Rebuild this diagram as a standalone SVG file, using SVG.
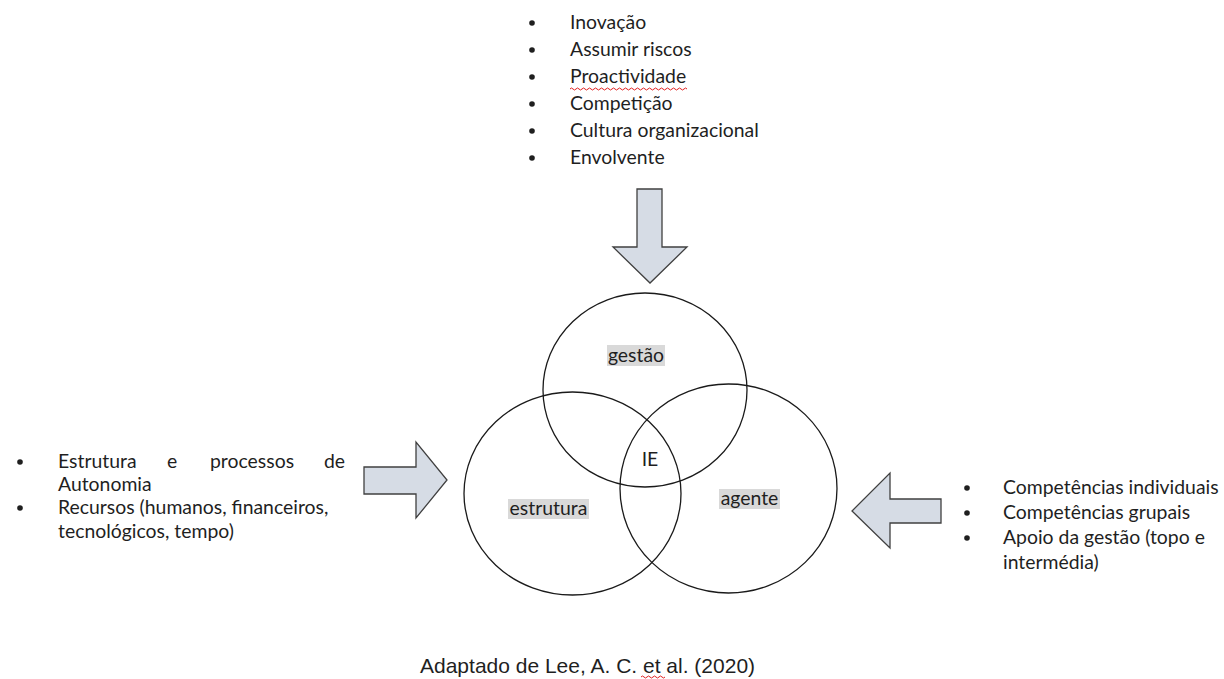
<svg xmlns="http://www.w3.org/2000/svg" width="1224" height="679" viewBox="0 0 1224 679">
<style>
.t{font-family:Lato,"Open Sans",sans-serif;font-size:19.4px;fill:#1f1f1f}
.c{font-family:"Liberation Sans",Arial,sans-serif;font-size:21px;fill:#1f1f1f}
.arrow{fill:#d6dce5;stroke:#404040;stroke-width:1.3;stroke-linejoin:miter}
.ring{fill:none;stroke:#1a1a1a;stroke-width:1.3}
.hl{fill:#d9d9d9}
.sq{fill:none;stroke:#e02020;stroke-width:1}
</style>
<rect width="1224" height="679" fill="#ffffff"/>
<g id="top-list">
<circle cx="532" cy="23" r="2.8" fill="#1f1f1f"/>
<circle cx="532" cy="50" r="2.8" fill="#1f1f1f"/>
<circle cx="532" cy="77" r="2.8" fill="#1f1f1f"/>
<circle cx="532" cy="104" r="2.8" fill="#1f1f1f"/>
<circle cx="532" cy="131" r="2.8" fill="#1f1f1f"/>
<circle cx="532" cy="158" r="2.8" fill="#1f1f1f"/>
<text class="t" x="570" y="29">Inovação</text>
<text class="t" x="570" y="56">Assumir riscos</text>
<text class="t" x="570" y="83">Proactividade</text>
<text class="t" x="570" y="110">Competição</text>
<text class="t" x="570" y="137">Cultura organizacional</text>
<text class="t" x="570" y="164">Envolvente</text>
<path class="sq" d="M570 89 q1.5 -2 3 0 t3 0 t3 0 t3 0 t3 0 t3 0 t3 0 t3 0 t3 0 t3 0 t3 0 t3 0 t3 0 t3 0 t3 0 t3 0 t3 0 t3 0 t3 0 t3 0 t3 0 t3 0 t3 0 t3 0 t3 0 t3 0 t3 0 t3 0 t3 0 t3 0 t3 0 t3 0 t3 0 t3 0 t3 0 t3 0 t3 0 t3 0 t3 0"/>
</g>
<g id="left-list">
<circle cx="20" cy="462" r="2.8" fill="#1f1f1f"/>
<circle cx="20" cy="508" r="2.8" fill="#1f1f1f"/>
<text class="t" x="58" y="468">Estrutura</text>
<text class="t" x="167" y="468">e</text>
<text class="t" x="210" y="468">processos</text>
<text class="t" x="345" y="468" text-anchor="end">de</text>
<text class="t" x="58" y="491">Autonomia</text>
<text class="t" x="58" y="514">Recursos (humanos, financeiros,</text>
<text class="t" x="58" y="538">tecnológicos, tempo)</text>
</g>
<g id="right-list">
<circle cx="967" cy="488" r="2.8" fill="#1f1f1f"/>
<circle cx="967" cy="513" r="2.8" fill="#1f1f1f"/>
<circle cx="967" cy="538" r="2.8" fill="#1f1f1f"/>
<text class="t" x="1003" y="494">Competências individuais</text>
<text class="t" x="1003" y="519">Competências grupais</text>
<text class="t" x="1003" y="544">Apoio da gestão (topo e</text>
<text class="t" x="1003" y="569">intermédia)</text>
</g>
<g id="connectors">
<path id="arrow-down" class="arrow" d="M637 189 L662 189 L662 247 L687 247 L650 283 L613 247 L637 247 Z"/>
<path id="arrow-right" class="arrow" d="M364 467 L416 467 L416 442 L447 480 L416 518 L416 494 L364 494 Z"/>
<path id="arrow-left" class="arrow" d="M941 499 L890 499 L890 473 L852 511 L890 548 L890 523 L941 523 Z"/>
</g>
<g id="gestao">
<ellipse class="ring" cx="645" cy="390" rx="102" ry="97"/>
<rect class="hl" x="607" y="345" width="58" height="21"/>
<text class="t" x="636" y="362" text-anchor="middle">gestão</text>
</g>
<g id="estrutura">
<ellipse class="ring" cx="572.5" cy="493.5" rx="108.5" ry="101.5"/>
<rect class="hl" x="508" y="499" width="81" height="20"/>
<text class="t" x="548.5" y="515" text-anchor="middle">estrutura</text>
</g>
<g id="agente">
<ellipse class="ring" cx="728.5" cy="488.5" rx="108.5" ry="104.5"/>
<rect class="hl" x="719" y="489" width="61" height="20"/>
<text class="t" x="749.5" y="505" text-anchor="middle">agente</text>
</g>
<g id="ie">
<text class="t" x="650" y="466" text-anchor="middle" font-size="22">IE</text>
</g>
<g id="caption">
<text class="c" x="420" y="673">Adaptado de Lee, A. C. et al. (2020)</text>
<path class="sq" d="M641 677 q1.5 -2 3 0 t3 0 t3 0 t3 0 t3 0 t3 0 t3 0 t3 0"/>
</g>
</svg>
